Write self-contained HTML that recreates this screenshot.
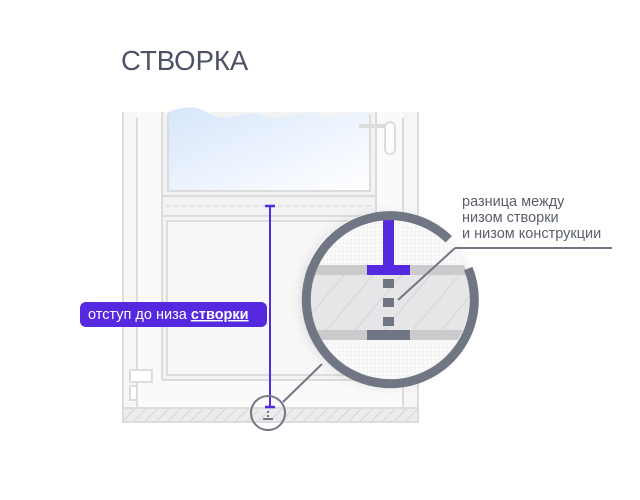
<!DOCTYPE html>
<html><head><meta charset="utf-8"><style>
body{margin:0;background:#fff;}
svg{display:block;font-family:"Liberation Sans","DejaVu Sans",sans-serif;}
</style></head><body>
<svg width="640" height="500" viewBox="0 0 640 500" xmlns="http://www.w3.org/2000/svg">
<defs>
<linearGradient id="gl" x1="0" y1="0" x2="1" y2="1">
<stop offset="0" stop-color="#d6e6fb"/><stop offset="0.7" stop-color="#f4f8fe"/><stop offset="1" stop-color="#ffffff"/>
</linearGradient>
<pattern id="hatch" width="8" height="8" patternUnits="userSpaceOnUse" patternTransform="rotate(45)">
<rect width="8" height="8" fill="#ececec"/><line x1="0" y1="0" x2="0" y2="8" stroke="#d4d4d4" stroke-width="2"/>
</pattern>
<pattern id="bighatch" width="22" height="22" patternUnits="userSpaceOnUse" patternTransform="rotate(40)">
<rect width="22" height="22" fill="#e6e6e8"/><line x1="0" y1="0" x2="0" y2="22" stroke="#cfcfd2" stroke-width="1.5"/>
</pattern>
<pattern id="grid" width="4" height="4" patternUnits="userSpaceOnUse">
<rect width="4" height="4" fill="#fafafa"/><path d="M4 0V4H0" fill="none" stroke="#e6e6e8" stroke-width="0.6"/>
</pattern>
<clipPath id="cc"><circle cx="386" cy="296" r="84"/></clipPath>
<filter id="sh" x="-20%" y="-20%" width="140%" height="140%"><feDropShadow dx="0" dy="4" stdDeviation="6" flood-color="#000" flood-opacity="0.15"/></filter>
</defs>

<text x="121" y="70" font-size="27.5" fill="#4c5263">СТВОРКА</text>

<!-- window frame (open at top) -->
<rect x="123" y="112" width="295" height="296" fill="#f6f6f6"/>
<rect x="137" y="112" width="266" height="296" fill="#fafafa"/>
<g stroke="#dcdcdc" stroke-width="2" fill="none">
<line x1="123" y1="112" x2="123" y2="422"/>
<line x1="418" y1="112" x2="418" y2="422"/>
<line x1="137" y1="118" x2="137" y2="408"/>
<line x1="403" y1="118" x2="403" y2="408"/>
</g>
<rect x="123" y="408" width="295" height="14" fill="url(#hatch)" stroke="#dcdcdc" stroke-width="2"/>
<!-- sash -->
<rect x="162" y="112" width="214" height="268" fill="#f3f3f3"/>
<g stroke="#dcdcdc" stroke-width="2" fill="none">
<line x1="162" y1="112" x2="162" y2="380"/>
<line x1="376" y1="112" x2="376" y2="380"/>
<line x1="162" y1="380" x2="376" y2="380"/>
</g>
<path d="M168 112 C185 106 195 105 210 114 C228 124 245 109 262 115 C282 124 300 108 318 114 C336 122 352 109 370 113 V190 H168 Z" fill="url(#gl)"/>
<path d="M168 114 V191 H370 V114" fill="none" stroke="#dcdcdc" stroke-width="2"/>
<line x1="163" y1="196" x2="375" y2="196" stroke="#dcdcdc" stroke-width="2"/>
<line x1="166" y1="206" x2="372" y2="206" stroke="#dcdcdc" stroke-width="1.5" stroke-dasharray="5 3"/>
<line x1="163" y1="216" x2="375" y2="216" stroke="#dcdcdc" stroke-width="2"/>
<rect x="167" y="221" width="204" height="154" fill="#f7f7f7" stroke="#dcdcdc" stroke-width="2"/>
<!-- handle -->
<path d="M359 126 H390" stroke="#dcdcdc" stroke-width="4" fill="none"/>
<rect x="385" y="122" width="10" height="32" rx="5" fill="#fff" stroke="#dcdcdc" stroke-width="2"/>
<!-- hinge -->
<rect x="130" y="370" width="22" height="12" fill="#fff" stroke="#dcdcdc" stroke-width="2"/>
<rect x="130" y="386" width="7" height="14" fill="#fff" stroke="#dcdcdc" stroke-width="2"/>

<!-- purple measure -->
<line x1="270" y1="206" x2="270" y2="407" stroke="#5429e0" stroke-width="2"/>
<line x1="265" y1="206" x2="275" y2="206" stroke="#5429e0" stroke-width="2.5"/>
<line x1="265" y1="407" x2="275" y2="407" stroke="#5429e0" stroke-width="2.5"/>
<rect x="80" y="302" width="187" height="25" rx="6" fill="#5429e0"/>
<text x="88" y="319" font-size="14.5" fill="#fff">отступ до низа <tspan text-decoration="underline" font-weight="bold">створки</tspan></text>

<!-- small circle -->
<circle cx="268" cy="413" r="17" fill="none" stroke="#717684" stroke-width="2"/>
<rect x="267" y="411" width="2" height="2" fill="#717684"/><rect x="267" y="415" width="2" height="2" fill="#717684"/>
<line x1="263" y1="419" x2="273" y2="419" stroke="#717684" stroke-width="2"/>
<line x1="283" y1="402" x2="322" y2="364" stroke="#717684" stroke-width="2"/>

<!-- magnifier -->
<g filter="url(#sh)"><circle cx="386" cy="296" r="84" fill="#fafafa"/></g>
<g clip-path="url(#cc)">
<rect x="290" y="200" width="200" height="200" fill="url(#grid)"/>
<rect x="290" y="265" width="200" height="10" fill="#cbcbcd"/>
<rect x="290" y="275" width="200" height="55" fill="url(#bighatch)"/>
<rect x="290" y="330" width="200" height="10" fill="#cbcbcd"/>
<rect x="383" y="205" width="11" height="62" fill="#5429e0"/>
<rect x="367" y="265" width="43" height="10" fill="#5429e0"/>
<rect x="383" y="279" width="11" height="9" fill="#717684"/>
<rect x="383" y="298" width="11" height="9" fill="#717684"/>
<rect x="383" y="317" width="11" height="9" fill="#717684"/>
<rect x="367" y="330" width="43" height="10" fill="#717684"/>
</g>
<path d="M 448.7 239.3 A 84 84 0 1 0 468.3 268.5" fill="none" stroke="#717684" stroke-width="9"/>
<line x1="398" y1="300" x2="455" y2="248" stroke="#717684" stroke-width="2"/>
<line x1="455" y1="248" x2="612" y2="248" stroke="#717684" stroke-width="2"/>
<text font-size="14.5" fill="#5a5f6b"><tspan x="462" y="206">разница между</tspan><tspan x="462" y="222">низом створки</tspan><tspan x="462" y="238">и низом конструкции</tspan></text>
</svg>
</body></html>
